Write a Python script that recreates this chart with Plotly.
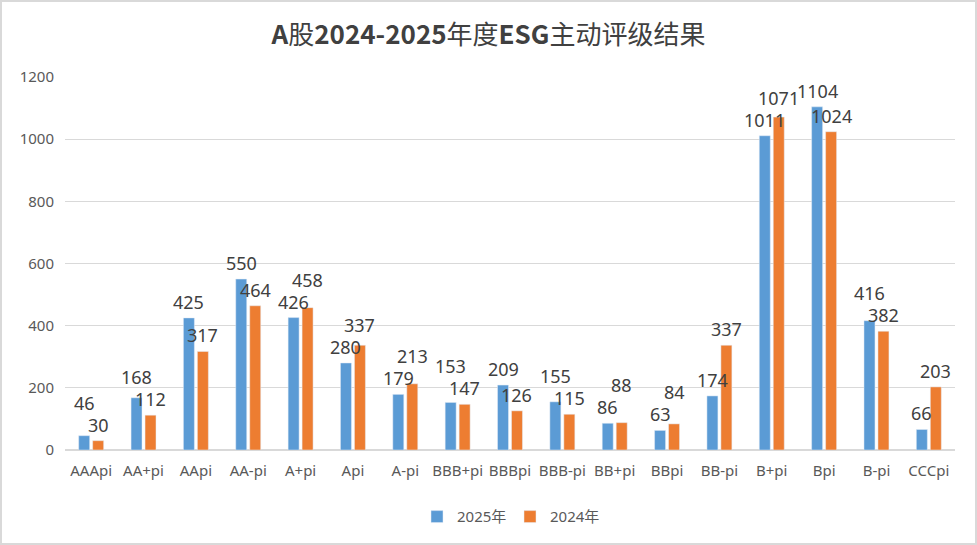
import plotly.graph_objects as go

categories = ['AAApi', 'AA+pi', 'AApi', 'AA-pi', 'A+pi', 'Api', 'A-pi', 'BBB+pi', 'BBBpi',
              'BBB-pi', 'BB+pi', 'BBpi', 'BB-pi', 'B+pi', 'Bpi', 'B-pi', 'CCCpi']
values_2025 = [46, 168, 425, 550, 426, 280, 179, 153, 209, 155, 86, 63, 174, 1011, 1104, 416, 66]
values_2024 = [30, 112, 317, 464, 458, 337, 213, 147, 126, 115, 88, 84, 337, 1071, 1024, 382, 203]
y_ticks = [0, 200, 400, 600, 800, 1000, 1200]

W, H = 977, 545
ml, mr, mt, mb = 65, 22, 77, 95
pw, ph = W - ml - mr, H - mt - mb
y_max = 1200
bargap, bargroupgap = 0.466, 0.214

fig = go.Figure()
fig.add_trace(go.Bar(name='2025年', x=categories, y=values_2025, marker_color='#5b9bd5'))
fig.add_trace(go.Bar(name='2024年', x=categories, y=values_2024, marker_color='#ed7d31'))

# data labels, staggered like Excel when the two labels of a group would collide
px_per_unit = ph / y_max
slot = pw / len(categories) * (1 - bargap) / 2
gap_above = 16
label_h = 22
for cat, v1, v2 in zip(categories, values_2025, values_2024):
    c1 = v1 * px_per_unit + gap_above
    c2 = v2 * px_per_unit + gap_above
    if abs(c1 - c2) < label_h:
        if v1 >= v2:
            c1 = c2 + label_h
        else:
            c2 = c1 + label_h
    for v, c, dx in ((v1, c1, -slot / 2), (v2, c2, slot / 2)):
        fig.add_annotation(x=cat, y=v, text=str(v), showarrow=False, xanchor='center',
                           yanchor='middle', xshift=dx, yshift=c - v * px_per_unit,
                           font=dict(family='Noto Sans, sans-serif', size=18, color='#404040'))

fig.update_layout(
    width=W, height=H,
    margin=dict(l=ml, r=mr, t=mt, b=mb),
    paper_bgcolor='white', plot_bgcolor='white',
    font=dict(family='Noto Sans, Noto Sans CJK SC, sans-serif', color='#595959', size=15),
    title=dict(text='<b>A</b>股<b>2024-2025</b>年度<b>ESG</b>主动评级结果', x=0.5, xanchor='center',
               y=0.936, yanchor='middle',
               font=dict(family='Noto Sans CJK SC, sans-serif', size=26, color='#404040')),
    barmode='group', bargap=bargap, bargroupgap=bargroupgap,
    legend=dict(orientation='h', x=0.5, xanchor='center', y=-0.135, yanchor='top',
                font=dict(size=15, color='#595959'), itemwidth=30,
                entrywidth=48, entrywidthmode='pixels'),
    showlegend=True,
)
fig.update_yaxes(range=[0, y_max], tickvals=y_ticks, showgrid=True, gridcolor='#d9d9d9',
                 gridwidth=1, zeroline=True, zerolinecolor='#d9d9d9', zerolinewidth=1.5,
                 ticks='', ticklabelstandoff=10, tickfont=dict(size=15, color='#595959'))
fig.update_xaxes(showline=False, ticks='', ticklabelstandoff=10,
                 tickfont=dict(size=15, color='#595959'))

# chart border
fig.add_shape(type='rect', xref='paper', yref='paper',
              x0=-(ml - 1) / pw, x1=1 + (mr - 1) / pw,
              y0=-(mb - 1) / ph, y1=1 + (mt - 1) / ph,
              line=dict(color='#d9d9d9', width=2))

fig.write_html('out.html', config={'displayModeBar': False},
               post_script="document.body.style.margin='0';")
